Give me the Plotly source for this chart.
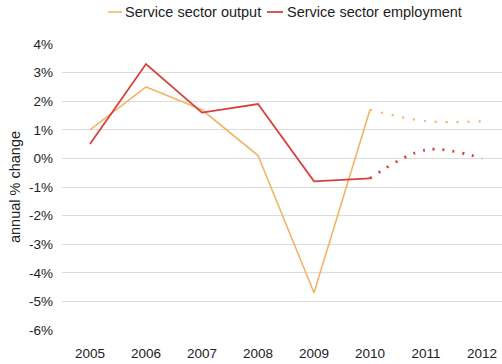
import plotly.graph_objects as go

years = [2005, 2006, 2007, 2008, 2009, 2010, 2011, 2012]
output_actual = [1.0, 2.5, 1.7, 0.1, -4.7, 1.7]
output_forecast = [1.7, 1.3, 1.3]
employment_actual = [0.5, 3.3, 1.6, 1.9, -0.8, -0.7]
employment_forecast = [-0.7, 0.3, 0.0]
y_ticks = [4, 3, 2, 1, 0, -1, -2, -3, -4, -5, -6]
y_ticklabels = [f"{v}%" for v in y_ticks]
series_names = ["Service sector output", "Service sector employment"]

c_out = "#F2B465"
c_emp = "#D8403C"

W, H = 502, 364
L, R, T, B = 62, 0, 44, 34
pw, ph = W - L - R, H - T - B


def px_x(px):
    return (px - L) / pw


def px_y(py):
    return (H - B - py) / ph


fig = go.Figure()
fig.add_trace(go.Scatter(x=years[:6], y=output_actual, mode="lines",
                         line=dict(color=c_out, width=1.6), name=series_names[0]))
fig.add_trace(go.Scatter(x=years[:6], y=employment_actual, mode="lines",
                         line=dict(color=c_emp, width=1.8), name=series_names[1]))
fig.add_trace(go.Scatter(x=years[5:], y=output_forecast, mode="lines",
                         line=dict(color=c_out, width=2.2, dash="2px,9px", shape="spline"),
                         showlegend=False))
fig.add_trace(go.Scatter(x=years[5:], y=employment_forecast, mode="lines",
                         line=dict(color=c_emp, width=2.8, dash="2px,8px", shape="spline"),
                         showlegend=False))

# custom legend
leg_y = px_y(12)
fig.add_shape(type="line", xref="paper", yref="paper", x0=px_x(108), x1=px_x(122),
              y0=leg_y, y1=leg_y, line=dict(color=c_out, width=1.5))
fig.add_annotation(xref="paper", yref="paper", x=px_x(123), y=leg_y, xanchor="left",
                   yanchor="middle", text=series_names[0], showarrow=False,
                   font=dict(size=14.5, color="#222"))
fig.add_shape(type="line", xref="paper", yref="paper", x0=px_x(267), x1=px_x(283),
              y0=leg_y, y1=leg_y, line=dict(color=c_emp, width=1.8))
fig.add_annotation(xref="paper", yref="paper", x=px_x(285), y=leg_y, xanchor="left",
                   yanchor="middle", text=series_names[1], showarrow=False,
                   font=dict(size=14.5, color="#222"))

fig.update_layout(
    width=W, height=H,
    margin=dict(l=L, r=R, t=T, b=B),
    paper_bgcolor="white", plot_bgcolor="white",
    font=dict(family="Liberation Sans, Arial, sans-serif", size=13.5, color="#222"),
    showlegend=False,
    xaxis=dict(range=[2004.5, 2012.357], tickvals=years, ticktext=[str(y) for y in years],
               showgrid=False, zeroline=False, showline=False, ticks="",
               tickfont=dict(size=13.5), ticklabelstandoff=13, automargin=False),
    yaxis=dict(range=[-6, 4], tickvals=y_ticks, ticktext=y_ticklabels,
               showgrid=True, gridcolor="#DCDCDC", gridwidth=1, zeroline=False,
               title=dict(text="annual % change", standoff=4, font=dict(size=14.5)),
               ticks="", ticklabelstandoff=8, tickfont=dict(size=13.5), automargin=False),
)

fig.write_html("out.html", config={"displayModeBar": False},
               post_script="document.body.style.margin='0';")
